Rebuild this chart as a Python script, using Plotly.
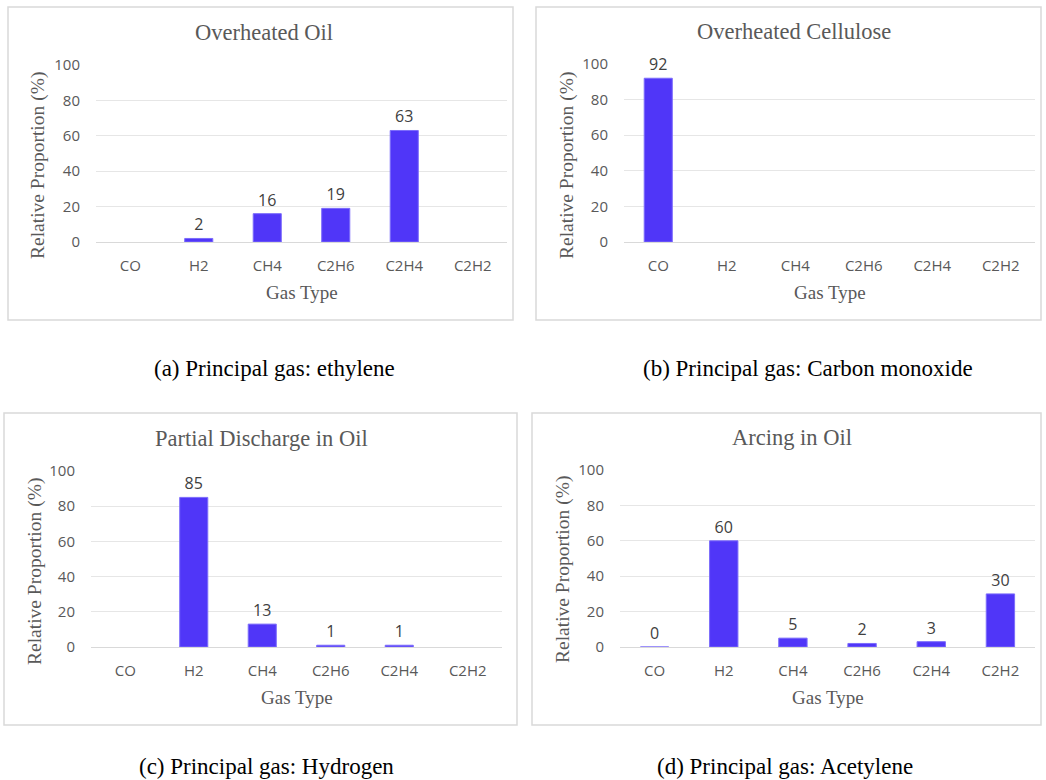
import plotly.graph_objects as go

W, H = 1046, 780

gases = ["CO", "H2", "CH4", "C2H6", "C2H4", "C2H2"]
oil_values = [None, 2, 16, 19, 63, None]
cellulose_values = [92, None, None, None, None, None]
partial_values = [None, 85, 13, 1, 1, None]
arcing_values = [0, 60, 5, 2, 3, 30]

titles = ["Overheated Oil", "Overheated Cellulose", "Partial Discharge in Oil", "Arcing in Oil"]
captions = ["(a) Principal gas: ethylene", "(b) Principal gas: Carbon monoxide",
            "(c) Principal gas: Hydrogen", "(d) Principal gas: Acetylene"]
y_ticks = [0, 20, 40, 60, 80, 100]
x_title = "Gas Type"
y_title = "Relative Proportion (%)"

series = [oil_values, cellulose_values, partial_values, arcing_values]

# layout in pixels: plot area (x0, x1, ytop, ybottom), box (x0, y0, x1, y1)
plots = [(96, 507, 65, 242), (624, 1035, 64, 242), (91, 502, 471, 647), (620, 1035, 470, 647)]
boxes = [(8, 7, 513, 320), (536, 7, 1041, 320), (4, 413, 517, 725), (532, 413, 1041, 725)]
title_pos = [(264, 33), (794, 32), (261, 438), (792, 437)]
ytitle_pos = [(38, 166), (567, 166), (35, 572), (563, 570)]
caption_pos = [(274, 368), (808, 368), (266, 766), (785, 766)]

BAR = "#5036F8"
GRAY = "#595959"

def px(x):
    return x / W

def py(y):
    return 1 - y / H

fig = go.Figure()
layout = dict(width=W, height=H, margin=dict(l=0, r=0, t=0, b=0, autoexpand=False),
              paper_bgcolor="white", plot_bgcolor="white", showlegend=False,
              shapes=[], annotations=[])

for i, vals in enumerate(series):
    n = "" if i == 0 else str(i + 1)
    fig.add_trace(go.Bar(
        x=gases, y=vals, xaxis="x" + n, yaxis="y" + n,
        marker=dict(color=BAR, line=dict(color="#7C6CFB", width=1)),
        text=[None if v is None else str(v) for v in vals],
        textposition="outside", cliponaxis=False,
        textfont=dict(family="Open Sans", size=16, color="#404040"),
        width=0.41,
    ))
    x0, x1, yt, yb = plots[i]
    layout["xaxis" + n] = dict(
        domain=[px(x0), px(x1)], anchor="y" + n, type="category",
        categoryorder="array", categoryarray=gases, automargin=False,
        showgrid=False, showline=False, zeroline=False,
        ticks="outside", ticklen=10, tickcolor="rgba(0,0,0,0)",
        tickfont=dict(family="Open Sans", size=15, color=GRAY), fixedrange=True,
    )
    layout["yaxis" + n] = dict(
        domain=[py(yb), py(yt)], anchor="x" + n, range=[0, 100], automargin=False,
        tickvals=y_ticks, showgrid=True, gridcolor="#E6E6E6", gridwidth=1,
        zeroline=True, zerolinecolor="#D9D9D9", zerolinewidth=1, showline=False,
        ticks="outside", ticklen=12, tickcolor="rgba(0,0,0,0)",
        tickfont=dict(family="Open Sans", size=15, color=GRAY), fixedrange=True,
    )
    bx0, by0, bx1, by1 = boxes[i]
    layout["shapes"].append(dict(type="rect", xref="paper", yref="paper",
                                 x0=px(bx0), x1=px(bx1), y0=py(by1), y1=py(by0),
                                 line=dict(color="#D9D9D9", width=1.5), layer="below"))
    tx, ty = title_pos[i]
    layout["annotations"].append(dict(text=titles[i], x=px(tx), y=py(ty), xref="paper", yref="paper",
                                      showarrow=False, xanchor="center", yanchor="middle",
                                      font=dict(family="Liberation Serif", size=22.5, color=GRAY)))
    layout["annotations"].append(dict(text=x_title, x=px((x0 + x1) / 2), y=py(yb + 50), xref="paper", yref="paper",
                                      showarrow=False, xanchor="center", yanchor="middle",
                                      font=dict(family="Liberation Serif", size=19, color=GRAY)))
    ax, ay = ytitle_pos[i]
    layout["annotations"].append(dict(text=y_title, x=px(ax), y=py(ay), xref="paper", yref="paper",
                                      showarrow=False, xanchor="center", yanchor="middle", textangle=-90,
                                      font=dict(family="Liberation Serif", size=19.5, color=GRAY)))
    cx, cy = caption_pos[i]
    layout["annotations"].append(dict(text=captions[i], x=px(cx), y=py(cy), xref="paper", yref="paper",
                                      showarrow=False, xanchor="center", yanchor="middle",
                                      font=dict(family="Liberation Serif", size=23, color="black")))

fig.update_layout(**layout)
post = ("var g=document.getElementById('{plot_id}');"
        "g.style.position='fixed';g.style.top='0px';g.style.left='0px';"
        "document.body.style.margin='0';document.body.style.padding='0';"
        "document.body.style.overflow='hidden';document.documentElement.style.overflow='hidden';")
fig.write_html("out.html", config={"displayModeBar": False}, post_script=post)
